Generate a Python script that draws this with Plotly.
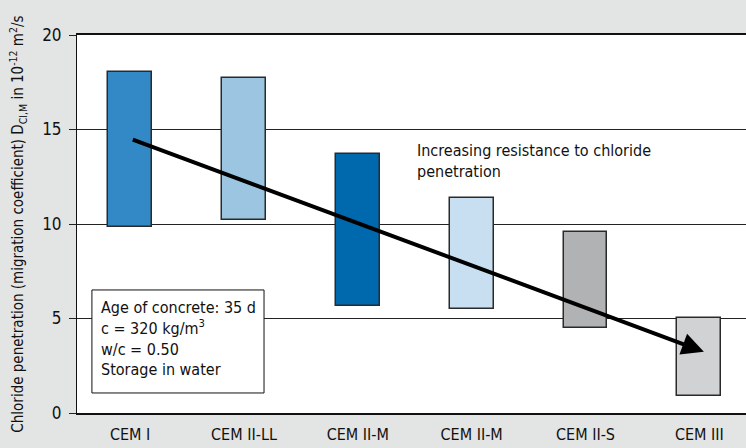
import plotly.graph_objects as go

categories = ["CEM I", "CEM II-LL", "CEM II-M", "CEM II-M", "CEM II-S", "CEM III"]
low_values = [9.85, 10.2, 5.65, 5.5, 4.5, 0.9]
high_values = [18.05, 17.7, 13.7, 11.35, 9.57, 5.03]
bar_colors = ["#3389c5", "#9bc5e1", "#0068ad", "#c7dff0", "#b1b2b4", "#d1d2d4"]
y_ticks = [0, 5, 10, 15, 20]
arrow_start = (0.01, 14.5)
arrow_end = (5.04, 3.24)

FONT = "DejaVu Sans Condensed, Liberation Sans Narrow, sans-serif"
xs = list(range(len(categories)))

fig = go.Figure()
fig.add_trace(go.Bar(
    x=xs,
    y=[h - l for h, l in zip(high_values, low_values)],
    base=low_values,
    width=0.384,
    marker=dict(color=bar_colors, line=dict(color="#2a2a2a", width=1.5)),
    showlegend=False,
    hoverinfo="skip",
))

fig.update_layout(
    width=746, height=448,
    margin=dict(l=77, r=0, t=35, b=35),
    paper_bgcolor="#e3e4e4",
    plot_bgcolor="white",
    font=dict(family=FONT, size=16, color="#111"),
    bargap=0,
    xaxis=dict(
        range=[-0.467, 5.41],
        tickvals=xs, ticktext=categories,
        showgrid=False, zeroline=False,
        showline=True, linecolor="#111", linewidth=2, mirror=True,
        ticks="", tickfont=dict(size=16), ticklabelstandoff=6,
        automargin=False,
        fixedrange=True,
    ),
    yaxis=dict(
        range=[0, 20],
        tickvals=y_ticks,
        showgrid=True, gridcolor="#222", gridwidth=1,
        zeroline=False,
        showline=True, linecolor="#111", linewidth=1,
        ticks="outside", ticklen=7, tickcolor="#222", tickwidth=1,
        tickfont=dict(size=17), ticklabelstandoff=4,
        title=dict(
            text="Chloride penetration (migration coefficient) D<sub>Cl,M</sub> in 10<sup>-12</sup> m<sup>2</sup>/s",
            font=dict(size=15), standoff=14,
        ),
        automargin=False,
        fixedrange=True,
    ),
)

# info box
fig.add_shape(type="rect", xref="x", yref="y",
              x0=-0.336, x1=1.176, y0=1.06, y1=6.51,
              line=dict(color="#111", width=1), fillcolor="white", layer="above")
fig.add_annotation(
    x=-0.275, y=3.95, xref="x", yref="y", xanchor="left", yanchor="middle",
    align="left", showarrow=False,
    text="Age of concrete: 35 d<br>c = 320 kg/m<sup>3</sup><br>w/c = 0.50<br>Storage in water",
    font=dict(size=16, color="#111"),
)

# trend arrow
fig.add_annotation(
    x=arrow_end[0], y=arrow_end[1], ax=arrow_start[0], ay=arrow_start[1],
    xref="x", yref="y", axref="x", ayref="y",
    showarrow=True, arrowhead=2, arrowsize=1.1, arrowwidth=4, arrowcolor="black",
    text="",
)

fig.add_annotation(
    x=2.5, y=14.5, xref="x", yref="y", xanchor="left", yanchor="top",
    align="left", showarrow=False,
    text="Increasing resistance to chloride<br>penetration",
    font=dict(size=16, color="#111"),
)

fig.write_html(
    "out.html",
    config={"displayModeBar": False},
    post_script="document.body.style.margin='0';document.body.style.background='#e3e4e4';",
)
